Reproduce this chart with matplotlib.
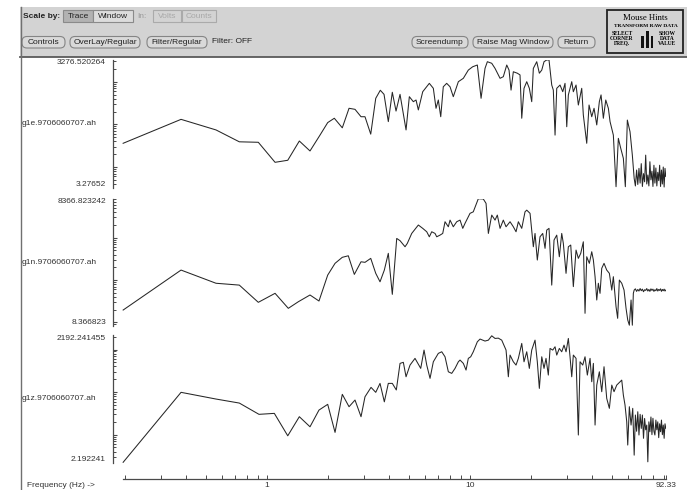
import numpy as np
import matplotlib
matplotlib.use('Agg')
import matplotlib.pyplot as plt
from matplotlib.patches import Rectangle, FancyBboxPatch
from matplotlib.ticker import LogLocator, NullFormatter, FixedLocator

plt.rcParams['font.family'] = ['Liberation Sans', 'DejaVu Sans']

# ---- data (frequency in Hz, spectral amplitude) ----
# dense high-frequency tail, same sample frequencies for all three traces
freq_tail = [64.5, 65.4, 66.3, 67.2, 68.1, 69.0, 69.9, 70.8, 71.7, 72.6,
             73.5, 74.4, 75.3, 76.2, 77.1, 78.0, 78.9, 79.8, 80.7, 81.6,
             82.5, 83.4, 84.3, 85.2, 86.1, 87.0, 87.9, 88.8, 89.7, 90.6,
             91.5, 92.33]

freq_e = [0.196, 0.378, 0.562, 0.732, 0.908, 1.098, 1.268, 1.446, 1.632, 1.828,
          1.995, 2.150, 2.354, 2.541, 2.719, 2.911, 3.045, 3.250, 3.440, 3.623,
          3.779, 3.967, 4.151, 4.330, 4.531, 4.851, 5.035, 5.269, 5.433, 5.577,
          5.861, 6.317, 6.610, 6.815, 6.995, 7.190, 7.40, 7.69, 7.99, 8.29,
          8.78, 9.29, 9.83, 10.33, 10.89, 11.36, 11.88, 12.20, 12.82, 13.31,
          14.09, 14.62, 15.20, 15.60, 15.96, 16.38, 17.14, 17.67, 18.02, 18.49,
          19.07, 19.64, 20.18, 20.55, 21.36, 22.00, 22.61, 23.20, 23.92, 24.55,
          25.32, 25.78, 26.29, 26.80, 27.82, 28.69, 29.44, 30.02, 30.57, 31.77,
          32.35, 33.36, 34.24, 35.58, 36.23, 37.66, 38.66, 39.86, 40.92, 42.19,
          43.45, 44.30, 45.47, 46.73, 48.13, 49.06, 50.93, 52.51, 53.90, 55.38,
          57.05, 58.35, 59.69, 61.54, 63.17]
amp_e = [36, 131, 74, 39, 38, 12.9, 14.4, 40.7, 23.8, 56,
         110, 139, 83, 238, 225, 151, 151, 59, 408, 630,
         505, 116, 565, 205, 505, 74, 445, 340, 372, 218,
         582, 915, 700, 238, 372, 151, 760, 915, 760, 445,
         1000, 1200, 1870, 2240, 2460, 408, 2050, 2940, 2700, 2050,
         1200, 1310, 2460, 1870, 635, 1710, 1580, 1440, 139, 700,
         1000, 700, 340, 2050, 2940, 1580, 1870, 2940, 3230, 3230,
         835, 635, 56, 700, 835, 582, 915, 88, 490, 1000,
         582, 835, 284, 700, 166, 36, 284, 151, 238, 97,
         340, 490, 139, 372, 238, 116, 56, 3.46, 47, 27.5,
         16, 3.46, 126, 67, 19]
amp_e_tail = [5.4, 3.6, 8.5, 3.9, 9.3, 4.2, 12, 3.5, 7.0, 4.5,
              19, 4.0, 6.5, 3.6, 13.3, 5.0, 8.0, 3.5, 11, 4.2,
              9.5, 3.6, 7.5, 4.8, 11, 3.5, 8.5, 4.0, 10, 3.4,
              9.3, 6.0]

freq_n = [0.196, 0.378, 0.562, 0.732, 0.908, 1.098, 1.276, 1.430, 1.632, 1.807,
          1.995, 2.168, 2.354, 2.520, 2.698, 2.911, 3.045, 3.250, 3.440, 3.611,
          3.792, 3.967, 4.151, 4.364, 4.531, 4.796, 4.922, 5.173, 5.577, 5.861,
          6.134, 6.317, 6.491, 6.739, 6.869, 7.132, 7.354, 7.548, 7.837, 7.99,
          8.29, 8.62, 8.95, 9.23, 9.47, 10.02, 10.40, 11.01, 11.65, 12.02,
          12.34, 12.82, 13.31, 13.66, 14.09, 14.62, 15.08, 15.78, 16.38, 16.89,
          17.34, 18.02, 18.70, 19.07, 19.80, 20.55, 20.95, 21.50, 22.17, 22.86,
          23.47, 23.92, 24.55, 25.32, 25.99, 26.80, 27.60, 28.36, 28.88, 29.78,
          30.57, 31.41, 32.35, 33.36, 34.24, 35.18, 36.23, 36.94, 37.66, 38.79,
          39.86, 40.60, 41.39, 42.19, 42.96, 43.79, 44.65, 45.82, 47.24, 48.68,
          50.03, 50.93, 52.51, 53.48, 54.52, 56.02, 57.50, 58.82, 59.96, 61.06,
          62.26, 63.17, 63.89]
amp_n = [19.6, 172, 84, 76, 29.8, 48.6, 21.5, 30.8, 44.4, 32,
         131, 248, 344, 374, 136, 270, 262, 325, 144, 91,
         172, 427, 46, 960, 850, 611, 735, 1260, 1990, 1660,
         1380, 1050, 1380, 1260, 1050, 1150, 1260, 2380, 1810, 2600,
         1810, 2380, 2600, 1660, 2180, 3750, 4080, 8300, 8200, 6450,
         1260, 3420, 2600, 3420, 1660, 2600, 1810, 2380, 1810, 1380,
         2380, 1660, 4080, 4470, 3750, 611, 1260, 297, 1050, 1260,
         560, 1510, 1660, 76, 880, 1150, 355, 1260, 735, 144,
         611, 670, 70, 510, 325, 427, 800, 16.4, 355, 248,
         466, 297, 120, 33.8, 84, 48.6, 189, 248, 172, 144,
         58, 120, 23.5, 12.5, 100, 84, 58, 21.5, 11.4, 8.6,
         33.8, 8.6, 48.6]
amp_n_tail = [58, 62, 54, 60, 55, 63, 56, 61, 53, 59,
              57, 63, 55, 60, 54, 62, 57, 61, 54, 59,
              56, 63, 55, 60, 57, 62, 54, 60, 56, 61,
              55, 58]

freq_z = [0.196, 0.378, 0.562, 0.732, 0.915, 1.089, 1.268, 1.446, 1.632, 1.807,
          1.995, 2.168, 2.354, 2.541, 2.719, 2.911, 3.045, 3.261, 3.440, 3.611,
          3.792, 3.967, 4.151, 4.344, 4.531, 4.704, 4.851, 5.075, 5.370, 5.730,
          5.949, 6.134, 6.368, 6.610, 6.995, 7.272, 7.548, 7.837, 8.143, 8.455,
          8.78, 8.95, 9.29, 9.58, 9.83, 10.10, 10.40, 10.89, 11.23, 11.88,
          12.34, 12.82, 13.31, 13.81, 14.36, 15.08, 15.48, 15.78, 16.38, 16.89,
          17.34, 18.02, 18.49, 19.07, 19.64, 20.18, 20.95, 21.50, 22.00, 22.61,
          23.20, 23.73, 24.36, 24.84, 25.61, 26.29, 26.80, 27.60, 28.36, 29.11,
          29.78, 30.57, 31.16, 31.77, 32.35, 33.36, 34.24, 34.91, 35.99, 36.94,
          37.92, 39.10, 39.86, 40.60, 41.39, 42.19, 43.45, 44.65, 45.82, 47.24,
          48.68, 50.03, 51.33, 52.93, 54.95, 56.02, 57.05, 58.14, 59.28, 59.96,
          61.06, 62.26, 63.46]
amp_z = [2.24, 98.6, 68.6, 55.2, 30, 31.6, 9.4, 26.4, 15.3, 37.8,
         51.5, 11.3, 88.5, 45.3, 65, 26.4, 77.6, 129, 98.6, 160,
         59, 160, 160, 112, 472, 500, 229, 431, 619, 360,
         970, 431, 210, 515, 811, 885, 675, 300, 275, 360,
         515, 565, 472, 329, 619, 675, 885, 1520, 1760, 1580,
         1660, 2100, 1820, 1850, 1660, 970, 229, 740, 515, 431,
         619, 1390, 515, 885, 360, 970, 1660, 515, 122, 675,
         360, 619, 251, 1060, 970, 1160, 740, 1060, 885, 1270,
         885, 1820, 675, 229, 740, 619, 9.8, 515, 431, 675,
         251, 619, 175, 472, 16.8, 146, 300, 102, 394, 71,
         41.5, 146, 102, 146, 175, 191, 85, 49.5, 20, 5.7,
         45.3, 16.8, 41.5]
amp_z_tail = [3.3, 28.9, 12, 34.5, 9.8, 30, 14, 28.9, 8.2, 24,
              13, 16.8, 2.3, 20, 11.7, 26, 10, 24.2, 12, 9.8,
              22, 13, 20, 8.5, 18, 11.7, 22, 10, 16.8, 8.2,
              18, 14.1]

trace_names = ['g1e.9706060707.ah', 'g1n.9706060707.ah', 'g1z.9706060707.ah']
y_max = [3276.520264, 8366.823242, 2192.241455]
y_min = [3.27652, 8.366823, 2.192241]
y_max_text = ['3276.520264', '8366.823242', '2192.241455']
y_min_text = ['3.27652', '8.366823', '2.192241']
x_tick_vals = [1, 10, 92.33]
x_tick_text = ['1', '10', '92.33']
x_minor_vals = [0.2, 0.3, 0.4, 0.5, 0.6, 0.7, 0.8, 0.9,
                2, 3, 4, 5, 6, 7, 8, 9, 20, 30, 40, 50, 60, 70, 80, 90]

# ---- layout (pixels) ----
W, H = 687, 490
fig = plt.figure(figsize=(W / 100, H / 100), dpi=100)
fig.patch.set_facecolor('white')

def fx(x):
    return x / W

def fy(y):
    return 1 - y / H

panel_top = [59.7, 198.6, 335.0]
panel_bot = [187.7, 325.7, 462.7]
xl_px, xr_px = 113.3, 665.8
xlim = (0.1753, 92.33)
gray = '#4a4a4a'

series = [(freq_e + freq_tail, amp_e + amp_e_tail),
          (freq_n + freq_tail, amp_n + amp_n_tail),
          (freq_z + freq_tail, amp_z + amp_z_tail)]
for i, (f, a) in enumerate(series):
    top, bot = panel_top[i], panel_bot[i]
    ax = fig.add_axes([fx(xl_px), fy(bot), (xr_px - xl_px) / W, (bot - top) / H])
    ax.patch.set_alpha(0)
    ax.set_xscale('log')
    ax.set_yscale('log')
    ax.set_xlim(xlim)
    ax.set_ylim(y_min[i], y_max[i])
    ax.plot(f, a, color='#262626', lw=0.75)
    for s in ['top', 'right', 'bottom']:
        ax.spines[s].set_visible(False)
    ax.spines['left'].set_color(gray)
    ax.spines['left'].set_linewidth(0.9)
    ax.tick_params(axis='x', which='both', bottom=False, labelbottom=False)
    ax.yaxis.set_major_locator(LogLocator(base=10, numticks=10))
    ax.yaxis.set_minor_locator(LogLocator(base=10, subs=np.arange(2, 10), numticks=30))
    ax.yaxis.set_minor_formatter(NullFormatter())
    ax.tick_params(axis='y', which='major', direction='in', length=3, width=0.8,
                   color=gray, labelleft=False)
    ax.tick_params(axis='y', which='minor', direction='in', length=2, width=0.7,
                   color=gray, labelleft=False)

# frequency axis
axx = fig.add_axes([fx(xl_px), fy(479), (xr_px - xl_px) / W, 0.0001])
axx.patch.set_alpha(0)
axx.set_xscale('log')
axx.set_xlim(xlim)
axx.set_yticks([])
for s in ['top', 'right', 'left']:
    axx.spines[s].set_visible(False)
axx.spines['bottom'].set_bounds(0.196, 92.33)
axx.spines['bottom'].set_color(gray)
axx.spines['bottom'].set_linewidth(0.9)
axx.xaxis.set_major_locator(FixedLocator(x_tick_vals))
axx.xaxis.set_minor_locator(FixedLocator(x_minor_vals))
axx.xaxis.set_minor_formatter(NullFormatter())
axx.set_xticklabels(x_tick_text)
axx.tick_params(axis='x', which='both', direction='in', length=2.6, width=0.7,
                color=gray, labelsize=6, pad=2.2, labelcolor='#333333')

# overlay in pixel coordinates
ov = fig.add_axes([0, 0, 1, 1], zorder=5)
ov.set_xlim(0, W)
ov.set_ylim(H, 0)
ov.axis('off')
ov.patch.set_alpha(0)

ov.add_patch(Rectangle((20, 7), W - 20, 50, facecolor='#d3d3d3', edgecolor='none'))
ov.plot([20, W], [57, 57], color='#5a5a5a', lw=1.3)
ov.plot([20.5, 20.5], [7, H], color='#707070', lw=1.0)

fs = 6
ov.text(23, 16.5, 'Scale by:', fontsize=fs, weight='bold', va='center', color='#222222')
ov.add_patch(Rectangle((63, 10), 30, 12.5, facecolor='#b2b2b2', edgecolor='#8a8a8a', lw=0.8))
ov.text(78, 16.5, 'Trace', fontsize=fs, ha='center', va='center', color='#222222')
ov.add_patch(Rectangle((93, 10), 40, 12.5, facecolor='#dcdcdc', edgecolor='#8a8a8a', lw=0.8))
ov.text(113, 16.5, 'Window', fontsize=fs, ha='center', va='center', color='#222222')
ov.text(137, 16.5, 'In:', fontsize=fs, va='center', color='#9a9a9a')
ov.add_patch(Rectangle((153, 10), 28, 12.5, facecolor='#d3d3d3', edgecolor='#aaaaaa', lw=0.8))
ov.text(167, 16.5, 'Volts', fontsize=fs, ha='center', va='center', color='#a8a8a8')
ov.add_patch(Rectangle((182, 10), 34, 12.5, facecolor='#d3d3d3', edgecolor='#aaaaaa', lw=0.8))
ov.text(199, 16.5, 'Counts', fontsize=fs, ha='center', va='center', color='#a8a8a8')

buttons = [(22, 65, 'Controls'), (70, 140, 'OverLay/Regular'), (147, 207, 'Filter/Regular'),
           (412, 468, 'Screendump'), (473, 553, 'Raise Mag Window'), (558, 595, 'Return')]
for x0, x1, label in buttons:
    ov.add_patch(FancyBboxPatch((x0, 36.5), x1 - x0, 11.5,
                                boxstyle='round,pad=0,rounding_size=5',
                                facecolor='#d9d9d9', edgecolor='#858585', lw=0.8))
    ov.text((x0 + x1) / 2, 42.3, label, fontsize=fs, ha='center', va='center', color='#222222')
ov.text(212, 41.5, 'Filter: OFF', fontsize=fs, va='center', color='#222222')

# mouse hints box
ov.add_patch(Rectangle((606.5, 10), 76.5, 43, facecolor='#d3d3d3', edgecolor='#222222', lw=1.3))
serif = ['Liberation Serif', 'DejaVu Serif']
ov.text(645, 17.5, 'Mouse Hints', fontsize=6.2, family=serif, ha='center', va='center')
ov.text(645.5, 26, 'TRANSFORM RAW DATA', fontsize=3.9, family=serif, weight='bold',
        ha='center', va='center')
ov.text(622, 38.5, 'SELECT\nCORNER\nFREQ.', fontsize=4.0, family=serif, weight='bold',
        ha='center', va='center', linespacing=0.9)
ov.text(667.5, 38.5, 'SHOW\nDATA\nVALUE', fontsize=4.0, family=serif, weight='bold',
        ha='center', va='center', linespacing=0.9)
for bx, by, bw in [(641, 36, 3), (645.5, 31.5, 3.6), (650.5, 36, 2.8)]:
    ov.add_patch(Rectangle((bx, by), bw, 48 - by, facecolor='#111111', edgecolor='none'))

# trace labels
for i in range(3):
    top, bot = panel_top[i], panel_bot[i]
    ov.text(106, top - 0.5, y_max_text[i], fontsize=6, ha='right', va='top', color='#333333')
    ov.text(106, bot + 0.5, y_min_text[i], fontsize=6, ha='right', va='bottom', color='#333333')
    ov.text(21.5, (top + bot) / 2, trace_names[i], fontsize=6, ha='left', va='center',
            color='#333333')

ov.text(27, 485, 'Frequency (Hz) ->', fontsize=6, va='center', color='#333333')

fig.savefig('out.png', dpi=100)
